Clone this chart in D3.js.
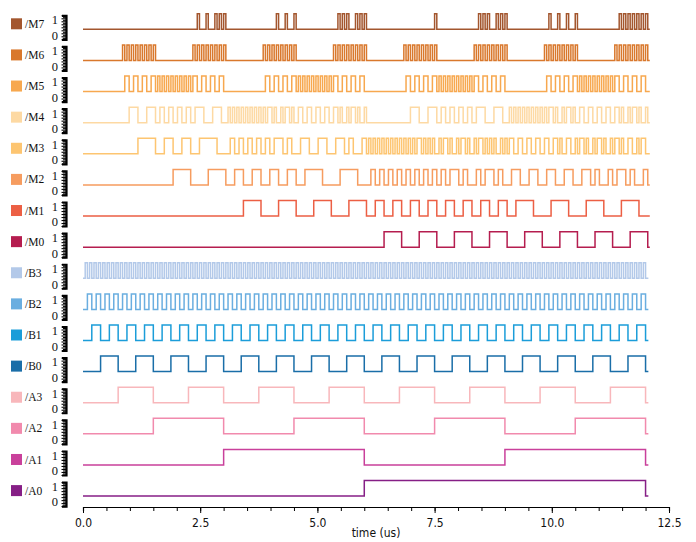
<!DOCTYPE html>
<html><head><meta charset="utf-8">
<script src="https://cdn.jsdelivr.net/npm/d3@7"></script>
<style>body{margin:0;background:#fff}svg{display:block}</style>
</head><body><svg id="chart" width="696" height="542"></svg>
<script>
// ---------- data ----------
const signalNames = ["/M7","/M6","/M5","/M4","/M3","/M2","/M1","/M0",
                     "/B3","/B2","/B1","/B0","/A3","/A2","/A1","/A0"];
const signalColors = ["#a3562e","#d9782c","#f7a84f","#fdd9a3","#fdc571","#f69c5f","#ec5f44","#b51d4f",
                      "#b3c9e9","#6aaee0","#1b9dd9","#1a6ea8","#f8b7bb","#f18aad","#c9409b","#861f86"];
// counter value of A in each 0.75 us slot
const aValues = [0,1,2,3,4,5,6,7,8,9,10,11,12,13,14,15];
// counter value of B in each 1/16 of a slot
const bValues = [0,1,2,3,4,5,6,7,8,9,10,11,12,13,14,15];
// M6..M0 value (bits 0..6) observed for each A (row) and B (column)
const productTable = [
 [0,0,0,0,0,0,0,0,0,0,0,0,0,0,0,0],
 [0,1,2,3,4,5,6,7,8,9,10,11,12,13,14,15],
 [0,2,4,6,8,10,12,14,16,18,20,22,24,26,28,30],
 [0,3,6,5,12,15,10,9,24,27,30,29,20,23,18,17],
 [0,4,8,12,16,20,24,28,32,36,40,44,48,52,56,60],
 [0,5,10,15,20,17,30,27,40,45,34,39,60,57,54,51],
 [0,6,12,10,24,30,20,18,48,54,60,58,40,46,36,34],
 [0,7,14,9,28,27,18,21,56,63,54,49,36,35,42,45],
 [0,8,16,24,32,40,48,56,64,72,80,88,96,104,112,120],
 [0,9,18,27,36,45,54,63,72,65,90,83,108,101,126,119],
 [0,10,20,30,40,34,60,54,80,90,68,78,120,114,108,102],
 [0,11,22,29,44,39,58,49,88,83,78,69,116,127,98,105],
 [0,12,24,20,48,60,40,36,96,108,120,116,80,92,72,68],
 [0,13,26,23,52,57,46,35,104,101,114,127,92,81,70,75],
 [0,14,28,18,56,54,36,42,112,126,108,98,72,70,84,90],
 [0,15,30,17,60,51,34,45,120,119,102,105,68,75,90,85]
];
// M7 state for each A (row) and B (column)
const m7Table = [
 "0000000000000000","0000000000000000","0000000000000000","0001000100010101",
 "0000000000000000","0000000100010001","0000000000000000","0001010100010101",
 "0000000000000000","0000000000000001","0000000000000000","0001010100010101",
 "0000000000000000","0001000100010001","0000000000000000","0001010101010101"
];
const xTickValues = [0,0.5,1,1.5,2,2.5,3,3.5,4,4.5,5,5.5,6,6.5,7,7.5,8,8.5,9,9.5,10,10.5,11,11.5,12,12.5];
const xLabelValues = [0,2.5,5,7.5,10,12.5];
const slotTime = 0.75;          // us per A value
const endInput = 12.06, endOutput = 12.09;

// ---------- layout ----------
const svg = d3.select("#chart");
const x = d3.scaleLinear().domain([0,12.5]).range([83,669]);
const rowStep = 31.12, firstLow = 29.3, levelH = 15.5;
const dt = slotTime / bValues.length;
const nSteps = aValues.length * bValues.length;

function stateAt(k){ // k step index; wraps to zero after last slot
  if (k < 0 || k >= nSteps) return {a:0,b:0};
  return {a: aValues[Math.floor(k / bValues.length)], b: bValues[k % bValues.length]};
}
function sigValue(name, k){
  const grp = name[1], n = +name.slice(2);
  if (grp === "A") return (stateAt(k).a >> (3-n)) & 1;
  if (grp === "B") return (stateAt(k).b >> (3-n)) & 1;
  // outputs follow inputs one step later
  if (k === 0) return 0;
  const s = stateAt(k-1);
  if (n === 7) return +m7Table[s.a][s.b];
  return (productTable[s.a][s.b] >> (6-n)) & 1;
}

signalNames.forEach((name,i) => {
  const low = firstLow + rowStep*i;
  const y = d3.scaleLinear().domain([0,1]).range([low, low-levelH]);
  const col = signalColors[i];
  const isOut = name[1] === "M";
  const last = isOut ? nSteps+1 : nSteps;
  const pts = [];
  for (let k=0;k<=last;k++) pts.push({t:k*dt, v:sigValue(name,k)});
  pts.push({t: isOut ? endOutput : endInput, v: pts[pts.length-1].v});
  const line = d3.line().x(d=>x(d.t)).y(d=>y(d.v)).curve(d3.curveStepAfter);
  svg.append("path").attr("d", line(pts)).attr("fill","none")
     .attr("stroke", col).attr("stroke-width",1.5).attr("stroke-linejoin","miter");

  // legend swatch + label
  svg.append("rect").attr("x",11).attr("y",low-11).attr("width",11).attr("height",11).attr("fill",col);
  svg.append("text").attr("x",25).attr("y",low-5.5).attr("dy","0.35em")
     .attr("font-family","Liberation Serif, serif").attr("font-size",11.5).attr("fill","#111").text(name);

  // little y ruler
  const ry = d3.scaleLinear().domain([0,16]).range([low+10, low-14]);
  const ax = d3.axisLeft(ry).tickValues(d3.range(0,16.5,1)).tickSize(4).tickFormat("");
  const g = svg.append("g").attr("transform","translate(66,0)").call(ax);
  g.select(".domain").attr("stroke","#000").attr("stroke-width",2.2);
  g.selectAll(".tick line").attr("stroke","#000").attr("stroke-width",1.1)
   .attr("x2", (d) => d % 2 === 0 ? -4.5 : -3);
  svg.append("text").attr("x",58).attr("y",low-9.5).attr("dy","0.35em").attr("text-anchor","end")
     .attr("font-family","Liberation Serif, serif").attr("font-size",12.5).attr("fill","#111").text("1");
  svg.append("text").attr("x",58).attr("y",low+6).attr("dy","0.35em").attr("text-anchor","end")
     .attr("font-family","Liberation Serif, serif").attr("font-size",12.5).attr("fill","#111").text("0");
});

// x axis
const axY = 507;
const gx = svg.append("g").attr("transform",`translate(0,${axY})`)
  .call(d3.axisBottom(x).tickValues(xTickValues).tickSize(4).tickFormat(""));
gx.select(".domain").attr("stroke","#000").attr("stroke-width",1.2);
gx.selectAll(".tick line").attr("stroke","#000");
const gl = svg.append("g").attr("transform",`translate(0,${axY})`)
  .call(d3.axisBottom(x).tickValues(xLabelValues).tickSize(6).tickFormat(d3.format(".1f")));
gl.select(".domain").remove();
gl.selectAll("text").attr("font-family","DejaVu Sans Condensed, DejaVu Sans, sans-serif")
  .attr("font-stretch","condensed").attr("font-size",12).attr("fill","#111").attr("dy","0.9em");
svg.append("text").attr("x",x(6.25)).attr("y",537).attr("text-anchor","middle")
  .attr("font-family","DejaVu Sans Condensed, DejaVu Sans, sans-serif").attr("font-stretch","condensed")
  .attr("font-size",12).attr("fill","#111").text("time (us)");
</script></body></html>
